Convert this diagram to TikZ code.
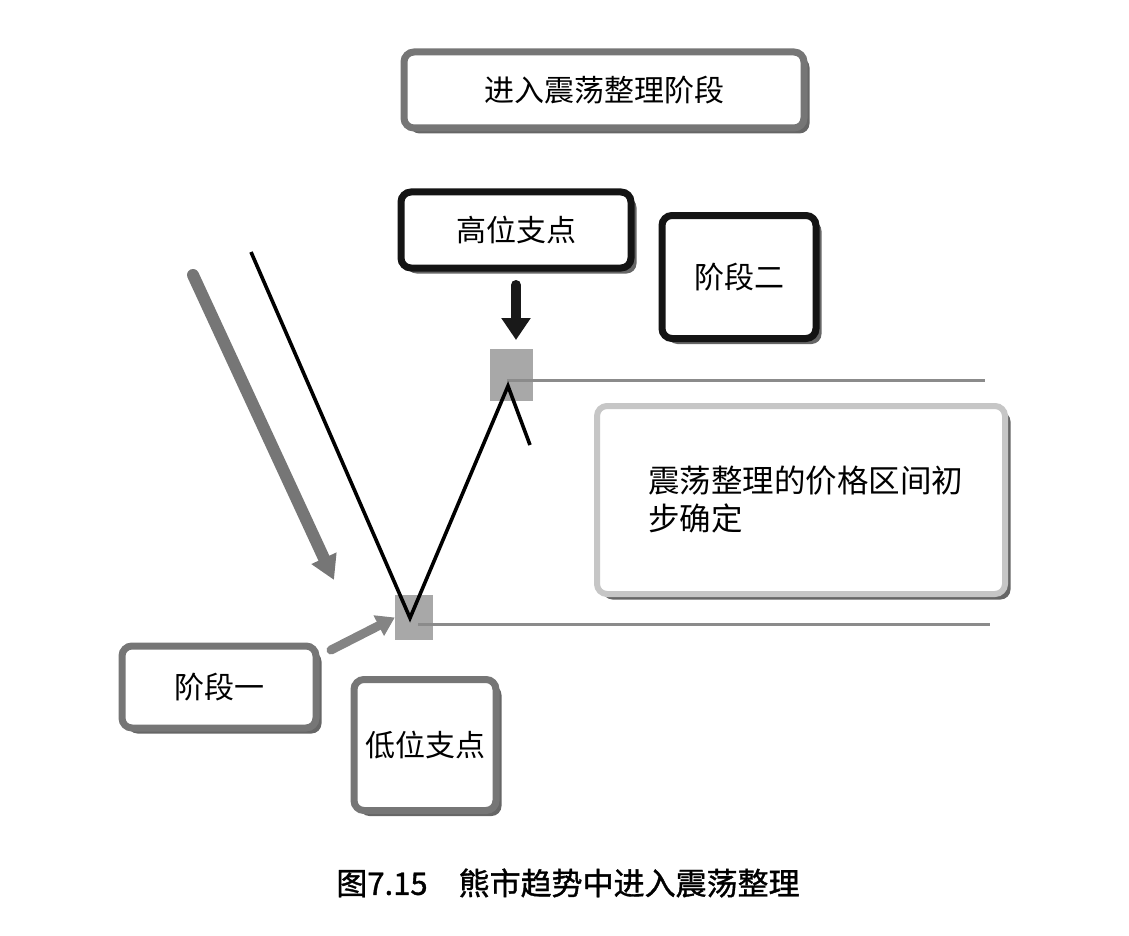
\documentclass[tikz,border=0pt]{standalone}
\usepackage{fontspec}
\setmainfont{Noto Sans CJK SC}
\newfontfamily\capfont[FakeBold=1.2]{Noto Sans CJK SC}
\usetikzlibrary{arrows.meta,shadows}

\definecolor{midgray}{HTML}{767676}
\definecolor{lightgray}{HTML}{C6C6C6}
\definecolor{squaregray}{HTML}{A8A8A8}

\tikzset{
  box/.style={draw, fill=white, rounded corners=10pt, line width=7pt, inner sep=0pt,
    align=center, font=\fontsize{30}{36}\selectfont,
    drop shadow={shadow xshift=5.5pt, shadow yshift=-5.5pt, fill=black, opacity=.6}},
  graybox/.style={box, draw=midgray},
  blackbox/.style={box, draw=black!92},
  pivot/.style={fill=squaregray, inner sep=0pt},
  level/.style={draw=midgray!85, line width=3pt},
  price/.style={draw=black, line width=3.6pt, line join=miter},
}

\begin{document}
\begin{tikzpicture}[x=1pt, y=-1pt]
  \useasboundingbox (0,0) rectangle (1129,936);

  % Boxes
  \node[graybox, minimum width=400, minimum height=76] (stage) at (604,90) {进入震荡整理阶段};
  \node[blackbox, minimum width=230, minimum height=76] (high) at (516,230) {高位支点};
  \node[blackbox, minimum width=154, minimum height=123] (two) at (739,277) {阶段二};
  \node[box, draw=lightgray, line width=6pt, minimum width=408, minimum height=188,
        text width=306, align=left, font=\fontsize{31.5}{38}\selectfont] (range) at (801,500)
        {震荡整理的价格区间初\\步确定};
  \node[graybox, minimum width=194, minimum height=82] (one) at (219,687) {阶段一};
  \node[graybox, minimum width=142, minimum height=131] (low) at (425,745) {低位支点};

  % Pivots
  \node[pivot, minimum width=43, minimum height=52] (highsq) at (511.5,375) {};
  \node[pivot, minimum width=38, minimum height=45] (lowsq) at (414,617.5) {};

  % Levels
  \coordinate (hend) at (985,380);
  \coordinate (lend) at (990,624);
  \draw[level] (507,380) -- (hend);
  \draw[level] (418,624) -- (lend);

  % Price path
  \coordinate (p0) at (251,252);
  \coordinate (p1) at (410,618);
  \coordinate (p2) at (508,386);
  \coordinate (p3) at (530,445);
  \draw[price] (p0) -- (p1) -- (p2) -- (p3);

  % Arrows
  \coordinate (trend0) at (193,275);
  \coordinate (trend1) at (334,580);
  \coordinate (hightip) at (516,340);
  \draw[draw=midgray, line width=12pt, line cap=round,
        -{Triangle[width=26pt, length=24pt]}] (trend0) -- (trend1);
  \draw[draw=black!90, line width=10pt, line cap=round,
        -{Triangle[width=28pt, length=22pt]}] (high.south |- 0,285) -- (hightip);
  \draw[draw=midgray!90, line width=9pt, line cap=round,
        -{Triangle[width=22pt, length=18pt]}] (331,650) -- (lowsq.west);

  % Caption
  \node[font=\capfont\fontsize{31}{38}\selectfont] (caption) at (568,883) {图7.15\quad 熊市趋势中进入震荡整理};
\end{tikzpicture}
\end{document}
